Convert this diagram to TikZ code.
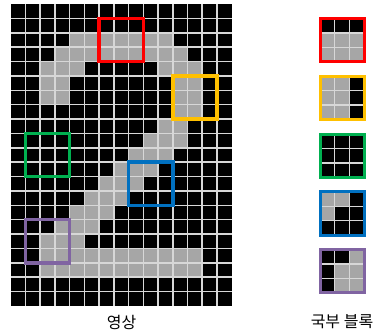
\documentclass[tikz,border=0pt]{standalone}
\usepackage{fontspec}
\newfontfamily\kr{Noto Sans CJK KR}
\definecolor{cellgray}{RGB}{166,166,166}
\definecolor{gridcol}{RGB}{215,215,215}
\definecolor{bred}{RGB}{255,0,0}
\definecolor{byellow}{RGB}{255,192,0}
\definecolor{bgreen}{RGB}{0,176,80}
\definecolor{bblue}{RGB}{0,112,192}
\definecolor{bpurple}{RGB}{128,100,162}
\tikzset{
  gridln/.style={draw=gridcol, line width=1.5pt},
  bigbox/.style={draw=#1, line width=3.5pt},
  smallbox/.style={draw=#1, line width=3pt},
  lbl/.style={font=\kr\fontsize{16}{18}\selectfont, inner sep=0pt}
}
\newcommand\cw{14.733}
\newcommand\ch{14.38}
\newcommand\gx{10.7}
\newcommand\gy{4}
\newcommand\sx{320}
% #1 top y, #2 colour, #3 gray cells c/r
\newcommand\mkblock[3]{%
  \fill[black] (\sx,#1) rectangle ++(3*\cw,3*\ch);
  \foreach \c/\r in {#3} \fill[cellgray] ({\sx+\c*\cw},{#1+\r*\ch}) rectangle ++(\cw,\ch);
  \foreach \i in {1,2} {
    \draw[gridln] ({\sx+\i*\cw},#1) -- ++(0,3*\ch);
    \draw[gridln] (\sx,{#1+\i*\ch}) -- ++(3*\cw,0);
  }
  \draw[smallbox=#2] (\sx,#1) rectangle ++(3*\cw,3*\ch);
}
\begin{document}
\begin{tikzpicture}[x=1pt,y=-1pt]
\useasboundingbox (0,0) rectangle (378,333);
% image grid
\fill[black] (\gx,\gy) rectangle ++(15*\cw,21*\ch);
\foreach \r/\a/\b in {2/4/10, 3/3/11, 4/2/4, 4/10/12, 5/2/3, 5/11/12, 6/2/3, 6/11/12,
  7/11/12, 8/10/11, 9/9/11, 10/8/10, 11/7/9, 12/6/8, 13/5/7, 14/4/6, 15/3/5, 16/2/4,
  17/2/12, 18/2/12}
  \fill[cellgray] ({\gx+\a*\cw},{\gy+\r*\ch}) rectangle ({\gx+(\b+1)*\cw},{\gy+(\r+1)*\ch});
\foreach \i in {1,...,14} \draw[gridln] ({\gx+\i*\cw},\gy) -- ++(0,21*\ch);
\foreach \i in {1,...,20} \draw[gridln] (\gx,{\gy+\i*\ch}) -- ++(15*\cw,0);
% local windows
\draw[bigbox=bred]    ({\gx+6*\cw},{\gy+1*\ch}) rectangle ++(3*\cw,3*\ch);
\draw[bigbox=byellow] ({\gx+11*\cw},{\gy+5*\ch}) rectangle ++(3*\cw,3*\ch);
\draw[bigbox=bgreen]  ({\gx+1*\cw},{\gy+9*\ch}) rectangle ++(3*\cw,3*\ch);
\draw[bigbox=bblue]   ({\gx+8*\cw},{\gy+11*\ch}) rectangle ++(3*\cw,3*\ch);
\draw[bigbox=bpurple] ({\gx+1*\cw},{\gy+15*\ch}) rectangle ++(3*\cw,3*\ch);
% local blocks
\mkblock{18.5}{bred}{0/1,1/1,2/1,0/2,1/2,2/2}
\mkblock{76.3}{byellow}{0/0,1/0,0/1,1/1,0/2,1/2}
\mkblock{134.1}{bgreen}{}
\mkblock{191.9}{bblue}{0/0,1/0,0/1}
\mkblock{249.7}{bpurple}{2/0,1/1,2/1,1/2,2/2}
% labels
\node[lbl] (imglabel) at (121.5,322) {영상};
\node[lbl] (blklabel) at (342,322) {국부 블록};
\end{tikzpicture}
\end{document}
